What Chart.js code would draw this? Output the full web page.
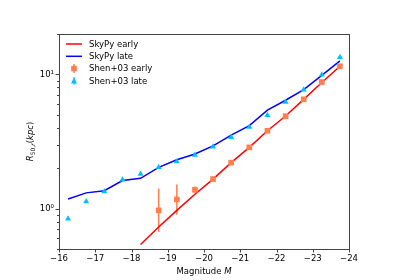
<!DOCTYPE html>
<html>
<head>
<meta charset="utf-8">
<script src="https://cdn.jsdelivr.net/npm/chart.js@4"></script>
<style>
  html, body { margin: 0; padding: 0; background: #fff; }
  #wrap { width: 400px; height: 280px; }
</style>
</head>
<body>
<div id="wrap"><canvas id="chart" width="400" height="280"></canvas></div>
<script>
// ==================== Data ====================
const lateMag = [-16.25, -16.75, -17.25, -17.75, -18.25, -18.75, -19.25, -19.75,
                 -20.25, -20.75, -21.25, -21.75, -22.25, -22.75, -23.25, -23.75];
const skypyLate = [1.18, 1.31, 1.36, 1.62, 1.68, 2.03, 2.31, 2.55,
                   2.93, 3.53, 4.15, 5.41, 6.42, 7.70, 9.84, 12.6];
const shenLate = [0.84, 1.13, 1.34, 1.64, 1.81, 2.03, 2.24, 2.51,
                  2.89, 3.40, 4.05, 4.97, 6.24, 7.70, 9.95, 13.4];

const earlyLineMag = [-18.25, -18.75, -19.25, -19.75, -20.25, -20.75,
                      -21.25, -21.75, -22.25, -22.75, -23.25, -23.75];
const skypyEarly = [0.54, 0.73, 0.97, 1.28, 1.66, 2.20, 2.86, 3.80, 4.90, 6.52, 8.70, 11.5];

const shenEarlyMag = [-18.75, -19.25, -19.75, -20.25, -20.75, -21.25,
                      -21.75, -22.25, -22.75, -23.25, -23.75];
const shenEarly   = [0.97, 1.17, 1.38, 1.66, 2.20, 2.86, 3.80, 4.88, 6.52, 8.77, 11.5];
const shenEarlyLo = [0.67, 0.90, 1.31, 1.62, 2.15, 2.80, 3.72, 4.78, 6.40, 8.60, 11.3];
const shenEarlyHi = [1.41, 1.51, 1.46, 1.70, 2.25, 2.92, 3.88, 4.98, 6.64, 8.94, 11.7];

const xTicks = [-16, -17, -18, -19, -20, -21, -22, -23, -24];
const yMajor = [1, 10];
const yMinor = [0.5, 0.6, 0.7, 0.8, 0.9, 2, 3, 4, 5, 6, 7, 8, 9, 20];
const legendLabels = ['SkyPy early', 'SkyPy late', 'Shen+03 early', 'Shen+03 late'];

const RED = '#ff0000';
const BLUE = '#0000ff';
const CORAL = '#ff7f50';
const SKY = '#00bfff';
const FONT = '"DejaVu Sans", sans-serif';

function pts(xs, ys) {
    return xs.map((m, i) => ({ x: m, y: ys[i] }));
}

// ==================== Extra drawing: error bars, frame, ticks, labels, legend ====================
const decorPlugin = {
    id: 'decor',
    beforeDatasetsDraw(chart) {
        const { ctx, scales: { x, y } } = chart;
        ctx.save();
        ctx.strokeStyle = CORAL;
        ctx.lineWidth = 1.5;
        shenEarlyMag.forEach((m, i) => {
            const px = x.getPixelForValue(m);
            ctx.beginPath();
            ctx.moveTo(px, y.getPixelForValue(shenEarlyLo[i]));
            ctx.lineTo(px, y.getPixelForValue(shenEarlyHi[i]));
            ctx.stroke();
        });
        ctx.restore();
    },
    afterDraw(chart) {
        const { ctx, chartArea: a, scales: { x, y } } = chart;
        ctx.save();

        // frame
        ctx.strokeStyle = '#444';
        ctx.lineWidth = 1;
        ctx.strokeRect(Math.round(a.left) + 0.5, Math.round(a.top) + 0.5,
                       Math.round(a.right - a.left), Math.round(a.bottom - a.top));

        // tick marks
        ctx.beginPath();
        xTicks.forEach(v => {
            const px = Math.round(x.getPixelForValue(v)) + 0.5;
            ctx.moveTo(px, a.bottom); ctx.lineTo(px, a.bottom + 3.5);
        });
        yMajor.forEach(v => {
            const py = Math.round(y.getPixelForValue(v)) + 0.5;
            ctx.moveTo(a.left, py); ctx.lineTo(a.left - 3.5, py);
        });
        yMinor.forEach(v => {
            const py = Math.round(y.getPixelForValue(v)) + 0.5;
            ctx.moveTo(a.left, py); ctx.lineTo(a.left - 2, py);
        });
        ctx.stroke();

        // x title
        ctx.fillStyle = '#000';
        ctx.textBaseline = 'alphabetic';
        const t1 = 'Magnitude ';
        ctx.font = 'italic 8.5px ' + FONT;
        const wM = ctx.measureText('M').width;
        ctx.font = '8.5px ' + FONT;
        const w1 = ctx.measureText(t1).width;
        let sx = (a.left + a.right) / 2 - (w1 + wM) / 2;
        ctx.textAlign = 'left';
        ctx.fillText(t1, sx, 274);
        ctx.font = 'italic 8.5px ' + FONT;
        ctx.fillText('M', sx + w1, 274);

        // y title (rotated, mathtext-like)
        ctx.save();
        ctx.translate(33, (a.top + a.bottom) / 2);
        ctx.rotate(-Math.PI / 2);
        const parts = [
            { t: 'R', f: 'italic 8.5px ', dy: 0 },
            { t: '50,', f: '6px ', dy: 1.8 },
            { t: 'r', f: 'italic 6px ', dy: 1.8 },
            { t: '(', f: '8.5px ', dy: 0 },
            { t: 'kpc', f: 'italic 8.5px ', dy: 0 },
            { t: ')', f: '8.5px ', dy: 0 }
        ];
        let total = 0;
        parts.forEach(p => { ctx.font = p.f + FONT; p.w = ctx.measureText(p.t).width; total += p.w; });
        let cx = -total / 2;
        parts.forEach(p => {
            ctx.font = p.f + FONT;
            ctx.fillText(p.t, cx, p.dy);
            cx += p.w;
        });
        ctx.restore();

        // legend
        const lx = a.left + 7, ly = a.top + 10, row = 12.3;
        ctx.font = '8.5px ' + FONT;
        ctx.textBaseline = 'middle';
        legendLabels.forEach((lab, i) => {
            const yy = ly + i * row;
            if (i < 2) {
                ctx.strokeStyle = i === 0 ? RED : BLUE;
                ctx.lineWidth = 1.5;
                ctx.beginPath();
                ctx.moveTo(lx, yy); ctx.lineTo(lx + 16, yy);
                ctx.stroke();
            } else if (i === 2) {
                ctx.strokeStyle = CORAL;
                ctx.lineWidth = 1.5;
                ctx.beginPath();
                ctx.moveTo(lx + 8, yy - 4.5); ctx.lineTo(lx + 8, yy + 4.5);
                ctx.stroke();
                ctx.fillStyle = CORAL;
                ctx.fillRect(lx + 5.2, yy - 2.8, 5.6, 5.6);
            } else {
                ctx.strokeStyle = SKY;
                ctx.lineWidth = 1;
                ctx.beginPath();
                ctx.moveTo(lx + 8, yy - 4); ctx.lineTo(lx + 8, yy + 4);
                ctx.stroke();
                ctx.fillStyle = SKY;
                ctx.beginPath();
                ctx.moveTo(lx + 8, yy - 3.5);
                ctx.lineTo(lx + 11, yy + 2.5);
                ctx.lineTo(lx + 5, yy + 2.5);
                ctx.closePath();
                ctx.fill();
            }
            ctx.fillStyle = '#000';
            ctx.fillText(lab, lx + 23, yy + 0.5);
        });

        ctx.restore();
    }
};

// ==================== Chart ====================
const ctx = document.getElementById('chart').getContext('2d');
new Chart(ctx, {
    type: 'scatter',
    data: {
        datasets: [
            {
                label: 'SkyPy early',
                type: 'line',
                data: pts(earlyLineMag, skypyEarly),
                borderColor: RED,
                borderWidth: 1.5,
                pointRadius: 0,
                fill: false,
                tension: 0,
                order: 3
            },
            {
                label: 'SkyPy late',
                type: 'line',
                data: pts(lateMag, skypyLate),
                borderColor: BLUE,
                borderWidth: 1.5,
                pointRadius: 0,
                fill: false,
                tension: 0,
                order: 3
            },
            {
                label: 'Shen+03 early',
                data: pts(shenEarlyMag, shenEarly),
                pointStyle: 'rect',
                pointRadius: 4,
                backgroundColor: CORAL,
                borderColor: CORAL,
                borderWidth: 0,
                order: 1
            },
            {
                label: 'Shen+03 late',
                data: pts(lateMag, shenLate),
                pointStyle: 'triangle',
                pointRadius: 3.5,
                backgroundColor: SKY,
                borderColor: SKY,
                borderWidth: 0,
                order: 1
            }
        ]
    },
    options: {
        responsive: false,
        animation: false,
        layout: { padding: { left: 0, right: 51, top: 34, bottom: 0 } },
        plugins: {
            legend: { display: false },
            tooltip: { enabled: false }
        },
        scales: {
            x: {
                type: 'linear',
                min: -24,
                max: -16,
                reverse: true,
                grid: { display: false, drawTicks: false },
                border: { display: false },
                afterFit(scale) { scale.height = 31; },
                afterBuildTicks(scale) { scale.ticks = xTicks.map(v => ({ value: v })); },
                ticks: {
                    autoSkip: false,
                    maxRotation: 0,
                    padding: 5,
                    color: '#000',
                    font: { family: FONT, size: 8.5 },
                    callback: v => '\u2212' + Math.abs(v)
                }
            },
            y: {
                type: 'logarithmic',
                min: 0.5,
                max: 20,
                grid: { display: false, drawTicks: false },
                border: { display: false },
                afterFit(scale) { scale.width = 59; },
                afterBuildTicks(scale) { scale.ticks = yMajor.map(v => ({ value: v })); },
                ticks: {
                    autoSkip: false,
                    padding: 5,
                    color: '#000',
                    font: { family: FONT, size: 8.5 },
                    callback: v => (v === 1 ? '10\u2070' : v === 10 ? '10\u00b9' : '')
                }
            }
        }
    },
    plugins: [decorPlugin]
});
</script>
</body>
</html>
